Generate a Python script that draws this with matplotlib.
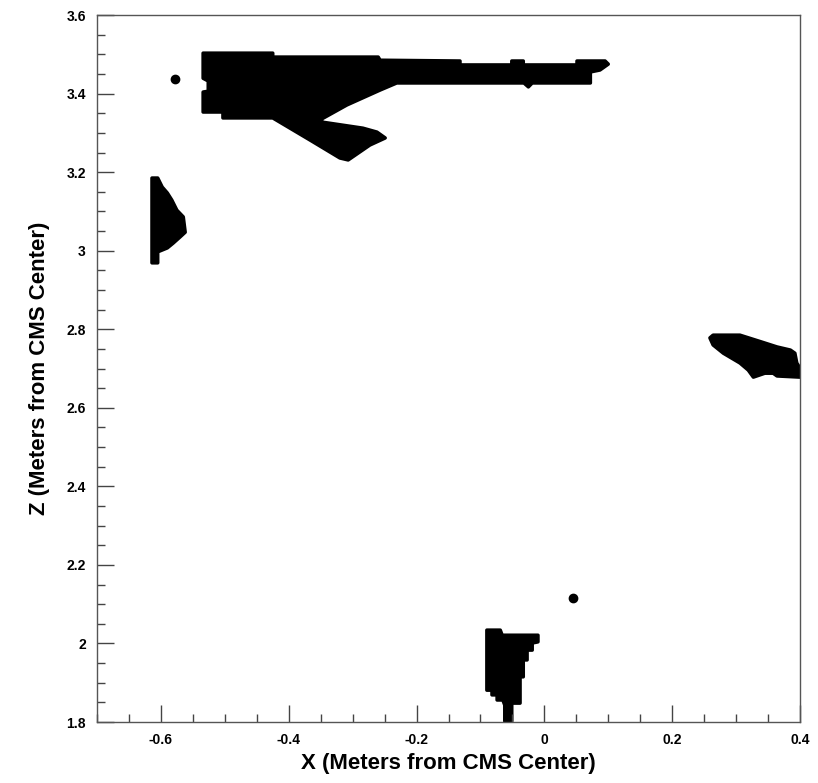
import matplotlib
matplotlib.use("Agg")
from matplotlib import pyplot as plt
from matplotlib.patches import Polygon
from matplotlib.ticker import MultipleLocator

plt.rcParams['font.family'] = ['Liberation Sans Narrow', 'Liberation Sans', 'DejaVu Sans']

# hit regions, outlines (x, z in metres)
top_x = [-0.534, -0.425, -0.425, -0.260, -0.257, -0.132, -0.132, -0.051, -0.051, -0.033,
         -0.033, 0.051, 0.051, 0.095, 0.100, 0.087, 0.072, 0.072, -0.019, -0.025,
         -0.032, -0.231, -0.257, -0.309, -0.351, -0.346, -0.284, -0.262, -0.249, -0.273,
         -0.307, -0.320, -0.367, -0.425, -0.503, -0.503, -0.534, -0.534, -0.526, -0.526,
         -0.534]
top_z = [3.503, 3.503, 3.493, 3.493, 3.485, 3.483, 3.473, 3.473, 3.483, 3.483,
         3.473, 3.473, 3.483, 3.483, 3.475, 3.460, 3.455, 3.427, 3.427, 3.417,
         3.427, 3.427, 3.409, 3.371, 3.333, 3.327, 3.312, 3.302, 3.287, 3.269,
         3.231, 3.236, 3.282, 3.338, 3.338, 3.353, 3.353, 3.404, 3.406, 3.432,
         3.439]

left_x = [-0.614, -0.605, -0.598, -0.590, -0.583, -0.575, -0.565, -0.562, -0.570, -0.581,
          -0.590, -0.605, -0.605, -0.614]
left_z = [3.185, 3.185, 3.162, 3.147, 3.129, 3.103, 3.086, 3.047, 3.035, 3.019,
          3.007, 2.997, 2.969, 2.969]

right_x = [0.259, 0.264, 0.306, 0.341, 0.364, 0.385, 0.392, 0.395, 0.400, 0.400,
           0.364, 0.358, 0.345, 0.327, 0.319, 0.306, 0.280, 0.264]
right_z = [2.778, 2.785, 2.785, 2.767, 2.755, 2.747, 2.739, 2.714, 2.701, 2.678,
           2.681, 2.688, 2.688, 2.678, 2.696, 2.714, 2.739, 2.760]

bot_x = [-0.090, -0.069, -0.066, -0.010, -0.010, -0.019, -0.019, -0.027, -0.027, -0.033,
         -0.033, -0.038, -0.038, -0.051, -0.051, -0.062, -0.062, -0.065, -0.074, -0.074,
         -0.082, -0.082, -0.090]
bot_z = [2.034, 2.034, 2.021, 2.021, 2.004, 2.001, 1.983, 1.983, 1.958, 1.958,
         1.915, 1.915, 1.848, 1.848, 1.802, 1.802, 1.843, 1.856, 1.856, 1.869,
         1.869, 1.881, 1.881]

# single hits
dot_x = [-0.578, 0.045]
dot_z = [3.436, 2.116]

fig = plt.figure(figsize=(8.18, 7.83), dpi=100)
ax = fig.add_axes([0.1186, 0.0779, 0.8594, 0.9029])

for xs, zs in [(top_x, top_z), (left_x, left_z), (right_x, right_z), (bot_x, bot_z)]:
    ax.add_patch(Polygon(list(zip(xs, zs)), closed=True, facecolor='black',
                         edgecolor='black', linewidth=2.5, joinstyle='round'))

ax.plot(dot_x, dot_z, 'o', color='black', markersize=6)

ax.set_xlim(-0.7, 0.4)
ax.set_ylim(1.8, 3.6)
ax.xaxis.set_major_locator(MultipleLocator(0.2))
ax.xaxis.set_minor_locator(MultipleLocator(0.05))
ax.yaxis.set_major_locator(MultipleLocator(0.2))
ax.yaxis.set_minor_locator(MultipleLocator(0.05))
ax.tick_params(which='both', direction='in', top=False, right=False, width=1, color='#444444')
ax.tick_params(which='major', length=12, labelsize=10, pad=8)
ax.tick_params(which='minor', length=6)
ax.xaxis.set_major_formatter(plt.FuncFormatter(lambda v, p: ('%g' % round(v, 2))))
ax.yaxis.set_major_formatter(plt.FuncFormatter(lambda v, p: ('%g' % round(v, 2))))
for lab in ax.get_xticklabels() + ax.get_yticklabels():
    lab.set_fontweight('bold')
for sp in ax.spines.values():
    sp.set_color('#555555')
    sp.set_linewidth(1)

ax.set_xlabel('X (Meters from CMS Center)', fontsize=16, fontweight='bold', labelpad=4)
ax.set_ylabel('Z (Meters from CMS Center)', fontsize=16, fontweight='bold', labelpad=12)

fig.savefig('out.png', dpi=100)
